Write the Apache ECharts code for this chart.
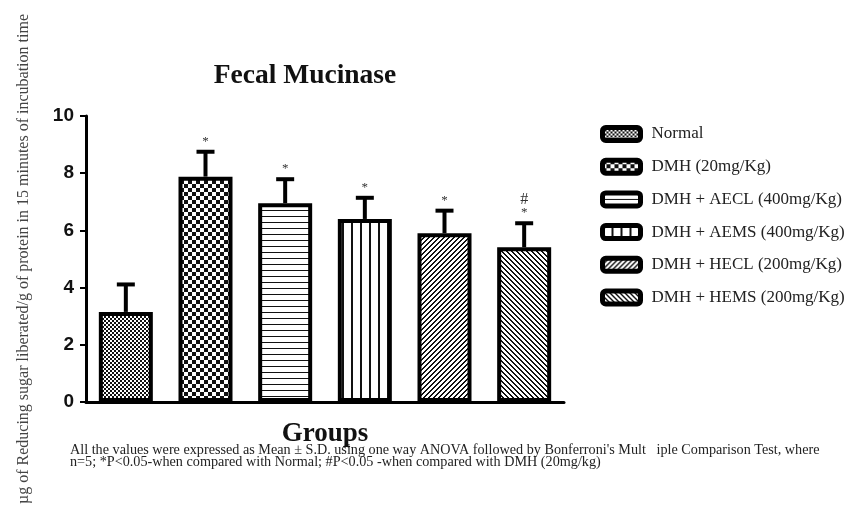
<!DOCTYPE html>
<html>
<head>
<meta charset="utf-8">
<script src="https://cdn.jsdelivr.net/npm/echarts@6/dist/echarts.min.js"></script>
<style>
  html, body { margin: 0; padding: 0; background: #fff; }
  #main { width: 858px; height: 508px; }
</style>
</head>
<body>
<div id="main"></div>
<script>
// data
var groups = ['Normal', 'DMH (20mg/Kg)', 'DMH + AECL (400mg/Kg)', 'DMH + AEMS (400mg/Kg)', 'DMH + HECL (200mg/Kg)', 'DMH + HEMS (200mg/Kg)'];
var means = [3.15, 7.88, 6.95, 6.40, 5.90, 5.41];
var sds = [0.96, 0.87, 0.84, 0.74, 0.79, 0.84];
var starMarks = ['', '*', '*', '*', '*', '*'];
var hashMarks = ['', '', '', '', '', '#'];
var yTicks = [0, 2, 4, 6, 8, 10];

var serif = '"Liberation Serif", "Times New Roman", serif';
var sans = '"Liberation Sans", Arial, sans-serif';

// fill patterns: each is a little tile, drawn pixel by pixel
function makeTile(size, fn) {
    var c = document.createElement('canvas');
    c.width = size; c.height = size;
    var ctx = c.getContext('2d');
    ctx.fillStyle = '#fff';
    ctx.fillRect(0, 0, size, size);
    ctx.fillStyle = '#111';
    for (var x = 0; x < size; x++) {
        for (var y = 0; y < size; y++) {
            if (fn(x, y)) ctx.fillRect(x, y, 1, 1);
        }
    }
    return c;
}
var tiles = [
    makeTile(4, function (x, y) { return ((x >> 1) + (y >> 1)) % 2 === 0; }),       // fine checker
    makeTile(8, function (x, y) { return ((x >> 2) + (y >> 2)) % 2 === 0; }),       // coarse checker
    makeTile(6, function (x, y) { return y === 0; }),                                // horizontal lines
    makeTile(9, function (x, y) { return x < 2; }),                                  // vertical lines
    makeTile(5, function (x, y) { return (x + y) % 5 < 2; }),                        // "/" hatch
    makeTile(5, function (x, y) { return (x - y + 50) % 5 < 2; })                    // "\" hatch
];

var myChart = echarts.init(document.getElementById('main'));

var barSeries = groups.map(function (g, i) {
    var d = groups.map(function () { return null; });
    d[i] = means[i];
    return {
        name: g,
        type: 'bar',
        data: d,
        barWidth: 54,
        barGap: '-100%',
        itemStyle: {
            color: { image: tiles[i], repeat: 'repeat' },
            borderColor: '#000',
            borderWidth: 4
        },
        emphasis: { disabled: true },
        z: 2
    };
});

// error bars (upper only) with significance marks
var errSeries = {
    type: 'custom',
    data: means.map(function (m, i) { return [i, m, m + sds[i]]; }),
    z: 3,
    renderItem: function (params, api) {
        var i = params.dataIndex;
        var base = api.coord([api.value(0), api.value(1)]);
        var top = api.coord([api.value(0), api.value(2)]);
        var half = 9;
        var kids = [
            { type: 'line', shape: { x1: base[0], y1: base[1], x2: top[0], y2: top[1] }, style: { stroke: '#000', lineWidth: 4 } },
            { type: 'line', shape: { x1: top[0] - half, y1: top[1], x2: top[0] + half, y2: top[1] }, style: { stroke: '#000', lineWidth: 4 } }
        ];
        if (starMarks[i]) {
            kids.push({ type: 'text', style: { text: starMarks[i], x: top[0], y: top[1] - 4, align: 'center', verticalAlign: 'bottom', font: '13px ' + serif, fill: '#333' } });
        }
        if (hashMarks[i]) {
            kids.push({ type: 'text', style: { text: hashMarks[i], x: top[0], y: top[1] - 15, align: 'center', verticalAlign: 'bottom', font: '16px ' + serif, fill: '#333' } });
        }
        return { type: 'group', children: kids };
    }
};

option = {
    animation: false,
    legend: {
        data: groups,
        orient: 'vertical',
        left: 595,
        top: 120,
        itemWidth: 38,
        itemHeight: 13,
        itemGap: 14.7,
        icon: 'roundRect',
        itemStyle: { borderColor: '#000', borderWidth: 5 },
        textStyle: { fontFamily: serif, fontSize: 17, color: '#222', padding: [0, 0, 0, 6] },
        selectedMode: false
    },
    grid: { left: 86, right: 294, top: 116, bottom: 106, containLabel: false },
    xAxis: {
        type: 'category',
        data: groups,
        name: 'Groups',
        nameLocation: 'middle',
        nameGap: 19,
        nameTextStyle: { fontFamily: serif, fontWeight: 'bold', fontSize: 27, color: '#111' },
        axisLine: { lineStyle: { color: '#000', width: 3 } },
        axisTick: { alignWithLabel: true, length: 7, lineStyle: { color: '#000', width: 2 } },
        axisLabel: { show: false }
    },
    yAxis: {
        type: 'value',
        min: 0,
        max: 10,
        interval: 2,
        name: 'µg of Reducing sugar liberated/g of protein in 15 minutes of incubation time',
        nameLocation: 'middle',
        nameRotate: 90,
        nameGap: 54,
        nameTextStyle: { fontFamily: serif, fontSize: 16, color: '#444' },
        splitLine: { show: false },
        axisLine: { show: true, lineStyle: { color: '#000', width: 3 } },
        axisTick: { show: true, length: 6, lineStyle: { color: '#000', width: 2 } },
        axisLabel: {
            margin: 12,
            fontFamily: sans,
            fontWeight: 'bold',
            fontSize: 19,
            color: '#111',
            formatter: function (v) { return yTicks.indexOf(v) >= 0 ? String(v) : ''; }
        }
    },
    graphic: [
        {
            type: 'text',
            x: 305,
            y: 76,
            style: {
                text: 'Fecal Mucinase',
                font: 'bold 27.5px ' + serif,
                align: 'center',
                verticalAlign: 'middle',
                fill: '#111'
            }
        },
        {
            type: 'text',
            left: 70,
            top: 443,
            style: {
                text: 'All the values were expressed as Mean \u00b1 S.D. using one way ANOVA followed by Bonferroni\'s Mult   iple Comparison Test, where\nn=5; *P<0.05-when compared with Normal; #P<0.05 -when compared with DMH (20mg/kg)',
                font: '14.2px ' + serif,
                lineHeight: 12,
                fill: '#222'
            }
        }
    ],
    series: barSeries.concat([errSeries])
};
myChart.setOption(option);
</script>
</body>
</html>
